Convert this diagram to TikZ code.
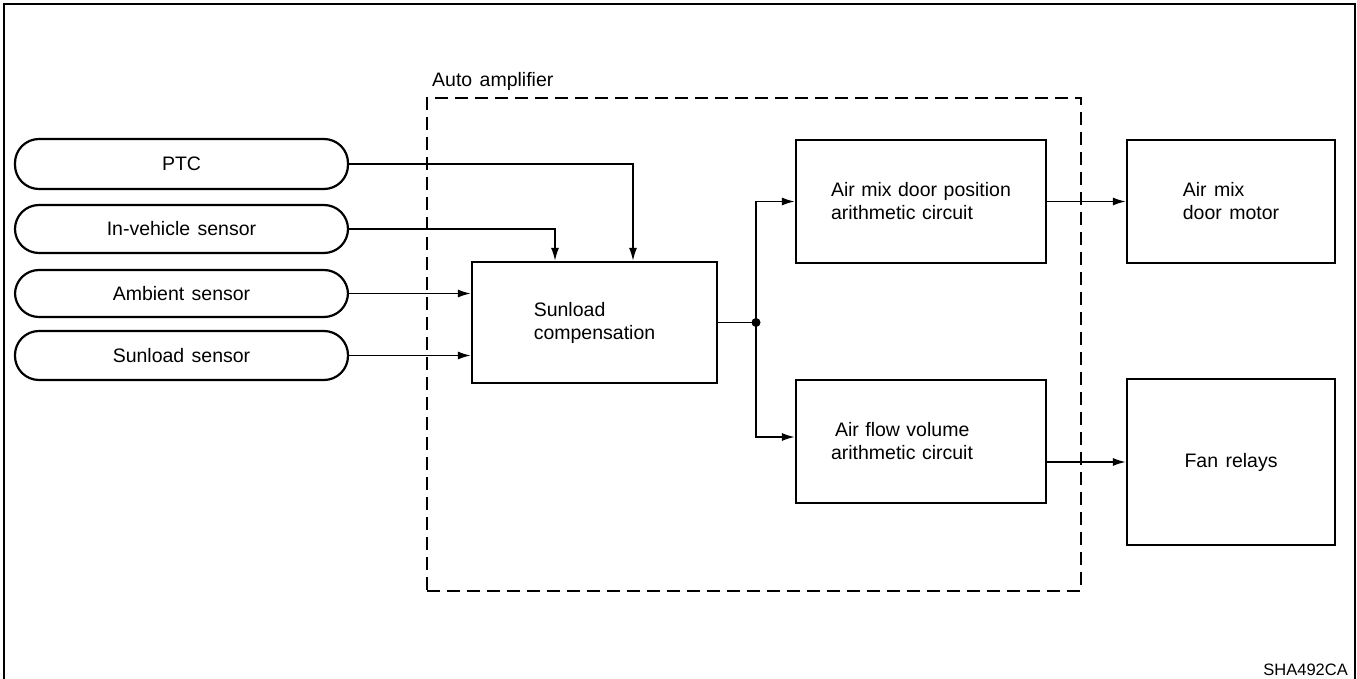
\documentclass[tikz,border=0pt]{standalone}
\usepackage{fontspec}
\setmainfont{Liberation Sans}
\usetikzlibrary{arrows.meta}
\newcommand{\dfont}{\fontsize{19.5}{23}\selectfont\spaceskip=0.38em plus 0.1em\relax}
\newcommand{\tagfont}{\fontsize{16.5}{20}\selectfont}
\begin{document}
\begin{tikzpicture}[x=1pt,y=-1pt,
  sensor/.style={draw, line width=2.2pt, rounded corners=24pt, minimum width=333pt, font=\dfont},
  block/.style={draw, line width=2.2pt, align=left, font=\dfont},
  amp/.style={draw, line width=2pt, dash pattern=on 13pt off 7pt},
  wire/.style={line width=1.6pt},
  conn/.style={wire, -{Latex[length=13pt,width=8pt]}},
  lbl/.style={font=\dfont, inner sep=0pt}
]
\useasboundingbox (0,0) rectangle (1357,679);
\draw[line width=2.2pt] (4,679) -- (4,4) -- (1355,4) -- (1355,679);

\node[amp, minimum width=654pt, minimum height=493pt] (amp) at (754,344.5) {};
\node[lbl, anchor=base west] (amplabel) at (432,87) {Auto amplifier};

\node[sensor, minimum height=50pt] (ptc) at (181.5,164) {PTC};
\node[sensor, minimum height=48pt] (inv) at (181.5,229) {In-vehicle sensor};
\node[sensor, minimum height=47pt] (amb) at (181.5,293.5) {Ambient sensor};
\node[sensor, minimum height=49pt] (sun) at (181.5,355.5) {Sunload sensor};

\node[block, minimum width=245pt, minimum height=121pt] (sc) at (594.5,322.5) {Sunload\\compensation};
\node[block, minimum width=250pt, minimum height=123pt, text width=180pt, inner xsep=0pt] (amd) at (921,201.5) {Air mix door position\\arithmetic circuit};
\node[block, minimum width=250pt, minimum height=123pt, text width=180pt, inner xsep=0pt] (af) at (921,441.5) {\hspace*{4pt}Air flow volume\\arithmetic circuit};
\node[block, minimum width=208pt, minimum height=123pt] (motor) at (1231,201.5) {Air mix\\door motor};
\node[block, minimum width=208pt, minimum height=166pt] (fan) at (1231,462) {Fan relays};

\node[font=\tagfont, inner sep=0pt, anchor=base east] (tag) at (1348,675) {SHA492CA};

\draw[conn] (ptc.east) -| ([xshift=38.5pt]sc.north);
\draw[conn] (inv.east) -| ([xshift=-39.5pt]sc.north);
\draw[conn] (amb.east) -- (amb.east -| sc.west);
\draw[conn] (sun.east) -- (sun.east -| sc.west);

\coordinate (j) at (756,322.5);
\draw[wire] (sc.east) -- (j);
\fill (j) circle (4.5pt);
\draw[conn] (j) |- (amd.west);
\draw[conn] (j) |- ([yshift=4.5pt]af.west);
\draw[conn] (amd.east) -- (motor.west);
\draw[conn] (af.east |- fan.west) -- (fan.west);
\end{tikzpicture}
\end{document}
